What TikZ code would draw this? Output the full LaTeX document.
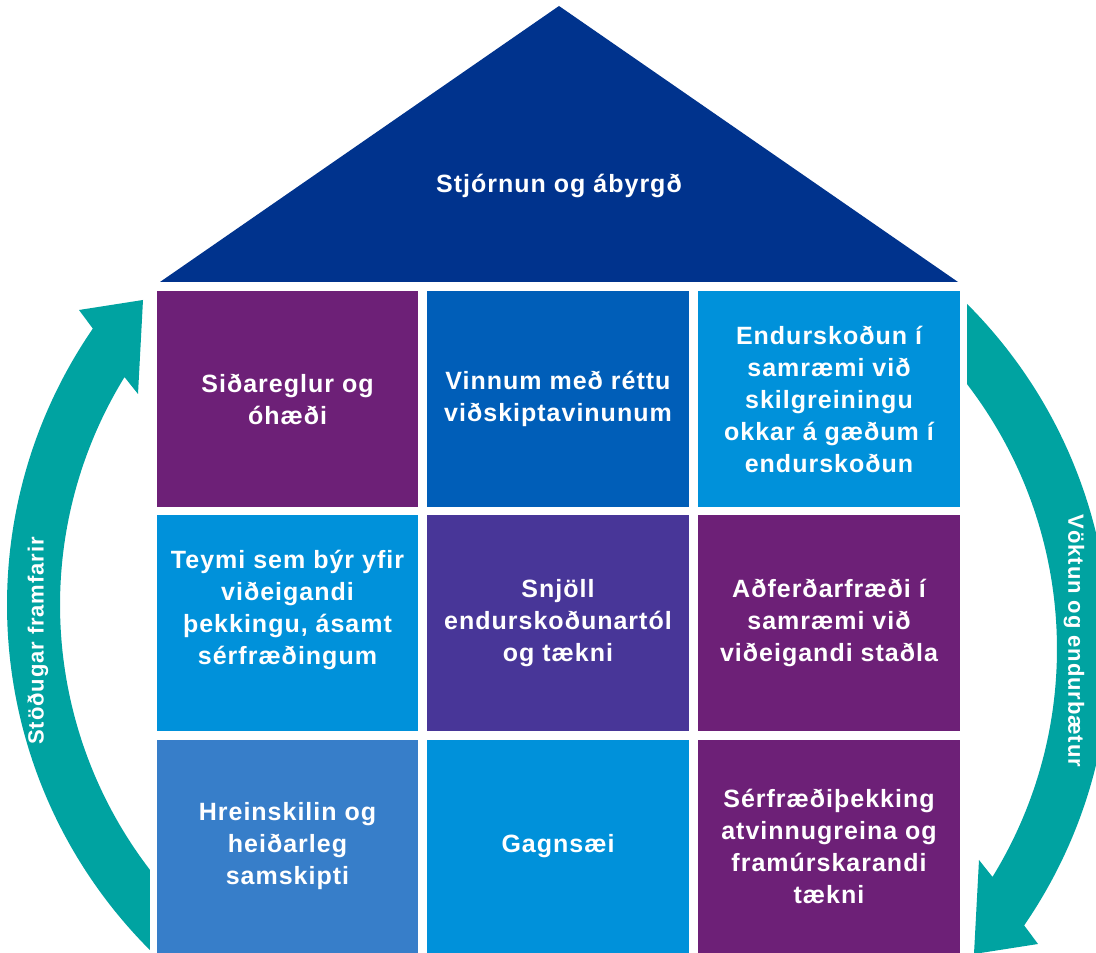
\documentclass[tikz,border=0pt]{standalone}
\usepackage{fontspec}
\setmainfont{Liberation Sans}[LetterSpace=4]
\definecolor{roofblue}{HTML}{00338D}
\definecolor{kpurple}{HTML}{6D2077}
\definecolor{kmedblue}{HTML}{005EB8}
\definecolor{klightblue}{HTML}{0091DA}
\definecolor{kviolet}{HTML}{483698}
\definecolor{khblue}{HTML}{377EC9}
\definecolor{kteal}{HTML}{00A3A1}
\tikzset{
  cell/.style={rectangle, inner sep=0pt, outer sep=0pt, text=white, align=center,
    font=\bfseries\fontsize{25}{32}\selectfont, minimum width=261.5pt},
  arctext/.style={text=white, font=\bfseries\fontsize{22}{26}\selectfont, inner sep=0pt},
  rooftext/.style={text=white, font=\bfseries\fontsize{25}{32}\selectfont, inner sep=0pt}
}
\begin{document}
\begin{tikzpicture}[x=1pt,y=1pt]
\clip (0,0) rectangle (1096,953);
\fill[white] (0,0) rectangle (1096,953);
% roof
\fill[roofblue] (160,671) -- (958,671) -- (559,947) -- cycle;
\node[rooftext, anchor=base] (roof) at (559,760) {Stjórnun og ábyrgð};
% row 1
\node[cell, fill=kpurple, minimum height=216pt] (c11) at (287.5,554) {Siðareglur og\\óhæði};
\node[cell, fill=kmedblue, minimum height=216pt] (c12) at (558,554) {Vinnum með réttu\\viðskiptavinunum};
\node[cell, fill=klightblue, minimum height=216pt] (c13) at (829,554) {Endurskoðun í\\samræmi við\\skilgreiningu\\okkar á gæðum í\\endurskoðun};
% row 2
\node[cell, fill=klightblue, minimum height=216pt] (c21) at (287.5,330) {Teymi sem býr yfir\\viðeigandi\\þekkingu, ásamt\\sérfræðingum\\\mbox{}};
\node[cell, fill=kviolet, minimum height=216pt] (c22) at (558,330) {Snjöll\\endurskoðunartól\\og tækni};
\node[cell, fill=kpurple, minimum height=216pt] (c23) at (829,330) {Aðferðarfræði í\\samræmi við\\viðeigandi staðla};
% row 3
\node[cell, fill=khblue, minimum height=213pt] (c31) at (287.5,106.5) {Hreinskilin og\\heiðarleg\\samskipti};
\node[cell, fill=klightblue, minimum height=213pt] (c32) at (558,106.5) {Gagnsæi};
\node[cell, fill=kpurple, minimum height=213pt] (c33) at (829,106.5) {Sérfræðiþekking\\atvinnugreina og\\framúrskarandi\\tækni};
% left arrow
\fill[kteal] ([shift={(495,348)}]145.5:488pt) arc[start angle=145.5, end angle=225, radius=488pt]
  -- ([shift={(495,348)}]217.5:435pt) arc[start angle=217.5, end angle=148.4, radius=435pt]
  -- (138,559) -- (143,653) -- (79,643) -- cycle;
% right arrow
\fill[kteal] ([shift={(622,304)}]325.5:488pt) arc[start angle=325.5, end angle=405, radius=488pt]
  -- ([shift={(622,304)}]397.5:435pt) arc[start angle=397.5, end angle=328.4, radius=435pt]
  -- (979,93) -- (974,-1) -- (1038,9) -- cycle;
\node[arctext, rotate=90] (ltext) at (38,312) {Stöðugar framfarir};
\node[arctext, rotate=-90] (rtext) at (1074,312) {Vöktun og endurbætur};
\end{tikzpicture}
\end{document}
